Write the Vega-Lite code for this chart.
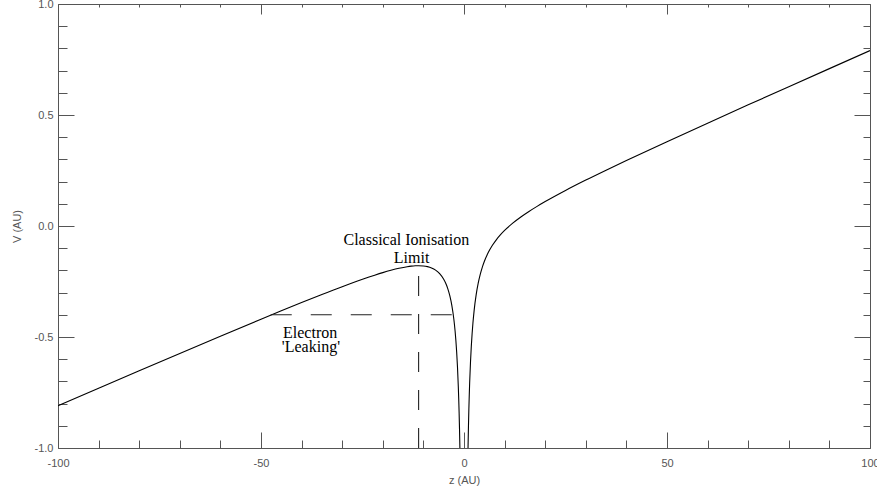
{
  "$schema": "https://vega.github.io/schema/vega-lite/v6.json",
  "autosize": "none",
  "width": 812,
  "height": 444,
  "padding": {"left": 58, "top": 4, "right": 7, "bottom": 39},
  "background": "white",
  "config": {
    "view": {"stroke": null},
    "axis": {
      "domainColor": "#555555",
      "tickColor": "#555555",
      "labelColor": "#555555",
      "titleColor": "#555555",
      "labelFont": "Liberation Sans",
      "titleFont": "Liberation Sans",
      "labelFontSize": 11,
      "titleFontSize": 11,
      "titleFontWeight": "normal",
      "grid": false,
      "domainWidth": 1,
      "tickWidth": 1
    }
  },
  "datasets": {
    "curve": [
      {"z": -100, "V": -0.81, "b": "L"},
      {"z": -90, "V": -0.7311, "b": "L"},
      {"z": -80, "V": -0.6525, "b": "L"},
      {"z": -70, "V": -0.5743, "b": "L"},
      {"z": -60, "V": -0.4967, "b": "L"},
      {"z": -50, "V": -0.42, "b": "L"},
      {"z": -45, "V": -0.3822, "b": "L"},
      {"z": -40, "V": -0.345, "b": "L"},
      {"z": -35, "V": -0.3086, "b": "L"},
      {"z": -30, "V": -0.2733, "b": "L"},
      {"z": -25, "V": -0.24, "b": "L"},
      {"z": -22, "V": -0.2215, "b": "L"},
      {"z": -20, "V": -0.21, "b": "L"},
      {"z": -18, "V": -0.1996, "b": "L"},
      {"z": -16, "V": -0.1905, "b": "L"},
      {"z": -14, "V": -0.1834, "b": "L"},
      {"z": -13, "V": -0.1809, "b": "L"},
      {"z": -12, "V": -0.1793, "b": "L"},
      {"z": -11.18, "V": -0.1789, "b": "L"},
      {"z": -10, "V": -0.18, "b": "L"},
      {"z": -9, "V": -0.1831, "b": "L"},
      {"z": -8, "V": -0.189, "b": "L"},
      {"z": -7, "V": -0.1989, "b": "L"},
      {"z": -6, "V": -0.2147, "b": "L"},
      {"z": -5, "V": -0.24, "b": "L"},
      {"z": -4.5, "V": -0.2582, "b": "L"},
      {"z": -4, "V": -0.282, "b": "L"},
      {"z": -3.5, "V": -0.3137, "b": "L"},
      {"z": -3, "V": -0.3573, "b": "L"},
      {"z": -2.5, "V": -0.42, "b": "L"},
      {"z": -2.2, "V": -0.4721, "b": "L"},
      {"z": -2, "V": -0.516, "b": "L"},
      {"z": -1.8, "V": -0.57, "b": "L"},
      {"z": -1.6, "V": -0.6378, "b": "L"},
      {"z": -1.4, "V": -0.7255, "b": "L"},
      {"z": -1.3, "V": -0.7796, "b": "L"},
      {"z": -1.2, "V": -0.8429, "b": "L"},
      {"z": -1.1, "V": -0.9179, "b": "L"},
      {"z": -1.0, "V": -1.008, "b": "L"},
      {"z": -0.9, "V": -1.1183, "b": "L"},
      {"z": 0.9, "V": -1.1039, "b": "R"},
      {"z": 1.0, "V": -0.992, "b": "R"},
      {"z": 1.1, "V": -0.9003, "b": "R"},
      {"z": 1.2, "V": -0.8237, "b": "R"},
      {"z": 1.3, "V": -0.7588, "b": "R"},
      {"z": 1.4, "V": -0.7031, "b": "R"},
      {"z": 1.6, "V": -0.6122, "b": "R"},
      {"z": 1.8, "V": -0.5412, "b": "R"},
      {"z": 2, "V": -0.484, "b": "R"},
      {"z": 2.2, "V": -0.4369, "b": "R"},
      {"z": 2.5, "V": -0.38, "b": "R"},
      {"z": 3, "V": -0.3093, "b": "R"},
      {"z": 3.5, "V": -0.2577, "b": "R"},
      {"z": 4, "V": -0.218, "b": "R"},
      {"z": 4.5, "V": -0.1862, "b": "R"},
      {"z": 5, "V": -0.16, "b": "R"},
      {"z": 6, "V": -0.1187, "b": "R"},
      {"z": 7, "V": -0.0869, "b": "R"},
      {"z": 8, "V": -0.061, "b": "R"},
      {"z": 9, "V": -0.0391, "b": "R"},
      {"z": 10, "V": -0.02, "b": "R"},
      {"z": 12, "V": 0.0127, "b": "R"},
      {"z": 14, "V": 0.0406, "b": "R"},
      {"z": 16, "V": 0.0655, "b": "R"},
      {"z": 18, "V": 0.0884, "b": "R"},
      {"z": 20, "V": 0.11, "b": "R"},
      {"z": 25, "V": 0.16, "b": "R"},
      {"z": 30, "V": 0.2067, "b": "R"},
      {"z": 35, "V": 0.2514, "b": "R"},
      {"z": 40, "V": 0.295, "b": "R"},
      {"z": 50, "V": 0.38, "b": "R"},
      {"z": 60, "V": 0.4633, "b": "R"},
      {"z": 70, "V": 0.5457, "b": "R"},
      {"z": 80, "V": 0.6275, "b": "R"},
      {"z": 90, "V": 0.7089, "b": "R"},
      {"z": 100, "V": 0.79, "b": "R"}
    ],
    "hline": [{"z": -47.6, "z2": -2.63, "V": -0.4}],
    "vline": [{"z": -11.18, "V": -1.0, "V2": -0.179}],
    "labels": [
      {"z": -14.2, "V": -0.0856, "text": "Classical Ionisation"},
      {"z": -12.9, "V": -0.165, "text": "Limit"},
      {"z": -37.9, "V": -0.506, "text": "Electron"},
      {"z": -37.7, "V": -0.5676, "text": "'Leaking'"}
    ]
  },
  "layer": [
    {
      "data": {"name": "curve"},
      "mark": {"type": "line", "color": "black", "strokeWidth": 1.1, "clip": true, "interpolate": "monotone"},
      "encoding": {
        "x": {
          "field": "z", "type": "quantitative",
          "scale": {"domain": [-100, 100], "nice": false, "zero": false},
          "axis": {
            "orient": "bottom",
            "title": "z (AU)",
            "values": [-100, -90, -80, -70, -60, -50, -40, -30, -20, -10, 0, 10, 20, 30, 40, 50, 60, 70, 80, 90, 100],
            "labelExpr": "datum.value % 50 === 0 ? replace(datum.label, '\u2212', '-') : ''",
            "tickSize": {"condition": {"test": "datum.value % 50 === 0", "value": -16}, "value": -8},
            "labelPadding": 25,
            "labelFlush": false,
            "labelOverlap": false,
            "titlePadding": -2
          }
        },
        "y": {
          "field": "V", "type": "quantitative",
          "scale": {"domain": [-1, 1], "nice": false, "zero": false},
          "axis": {
            "orient": "left",
            "title": "V (AU)",
            "values": [-1, -0.9, -0.8, -0.7, -0.6, -0.5, -0.4, -0.3, -0.2, -0.1, 0, 0.1, 0.2, 0.3, 0.4, 0.5, 0.6, 0.7, 0.8, 0.9, 1],
            "format": ".1f",
            "labelExpr": "abs(datum.value * 2 - round(datum.value * 2)) < 0.000001 ? replace(datum.label, '\u2212', '-') : ''",
            "tickSize": {"condition": {"test": "abs(datum.value * 2 - round(datum.value * 2)) < 0.000001", "value": -16}, "value": -9},
            "labelPadding": 21,
            "labelFlush": false,
            "labelOverlap": false,
            "titlePadding": 12
          }
        },
        "detail": {"field": "b", "type": "nominal"}
      }
    },
    {
      "data": {"name": "hline"},
      "mark": {"type": "rule", "color": "#222222", "strokeWidth": 1.1, "strokeDash": [21, 19]},
      "encoding": {
        "x": {
          "field": "z", "type": "quantitative",
          "axis": {
            "orient": "top",
            "title": null,
            "labels": false,
            "values": [-100, -90, -80, -70, -60, -50, -40, -30, -20, -10, 0, 10, 20, 30, 40, 50, 60, 70, 80, 90, 100],
            "tickSize": {"condition": {"test": "datum.value % 50 === 0", "value": -10}, "value": -3}
          }
        },
        "x2": {"field": "z2"},
        "y": {
          "field": "V", "type": "quantitative",
          "axis": {
            "orient": "right",
            "title": null,
            "labels": false,
            "values": [-1, -0.9, -0.8, -0.7, -0.6, -0.5, -0.4, -0.3, -0.2, -0.1, 0, 0.1, 0.2, 0.3, 0.4, 0.5, 0.6, 0.7, 0.8, 0.9, 1],
            "tickSize": {"condition": {"test": "abs(datum.value * 2 - round(datum.value * 2)) < 0.000001", "value": -16}, "value": -7}
          }
        }
      }
    },
    {
      "data": {"name": "vline"},
      "mark": {"type": "rule", "color": "#222222", "strokeWidth": 1.1, "strokeDash": [20, 18]},
      "encoding": {
        "x": {"field": "z", "type": "quantitative", "axis": null},
        "y": {"field": "V", "type": "quantitative", "axis": null},
        "y2": {"field": "V2"}
      }
    },
    {
      "data": {"name": "labels"},
      "mark": {"type": "text", "font": "Liberation Serif", "fontSize": 16, "color": "black", "align": "center", "baseline": "alphabetic"},
      "encoding": {
        "x": {"field": "z", "type": "quantitative", "axis": null},
        "y": {"field": "V", "type": "quantitative", "axis": null},
        "text": {"field": "text", "type": "nominal"}
      }
    }
  ],
  "resolve": {"axis": {"x": "independent", "y": "independent"}}
}
